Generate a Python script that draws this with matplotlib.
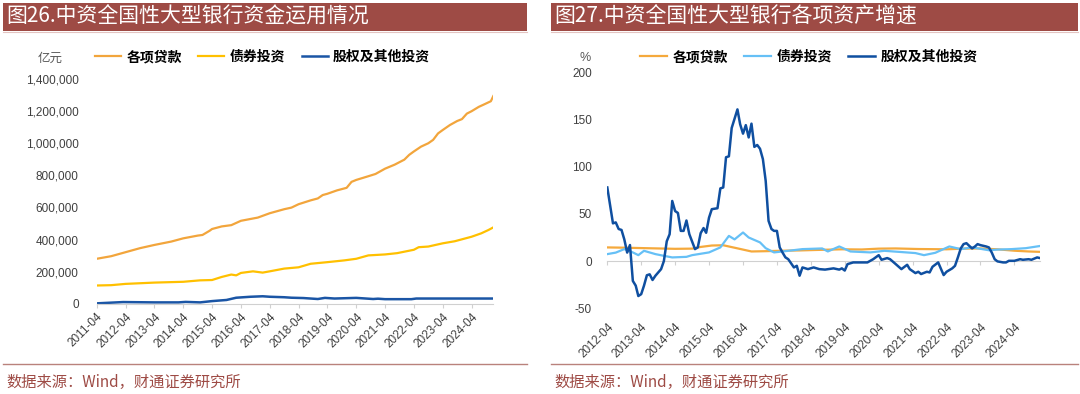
import matplotlib
matplotlib.use("Agg")
import matplotlib.pyplot as plt
import pandas as pd
from matplotlib.patches import Rectangle
from matplotlib.lines import Line2D
from matplotlib.font_manager import FontProperties

plt.rcParams['font.family'] = ['Liberation Sans', 'Noto Sans CJK SC', 'DejaVu Sans']

# ---------------- Left chart data (亿元) ----------------
loan_dates = ['2011-04', '2011-10', '2012-04', '2012-10', '2013-04', '2013-11', '2014-04', '2014-10',
              '2014-12', '2015-03', '2015-04', '2015-08', '2015-12', '2016-04', '2016-11', '2017-04',
              '2017-10', '2018-01', '2018-04', '2018-09', '2018-12', '2019-02', '2019-04', '2019-08',
              '2019-12', '2020-02', '2020-04', '2020-09', '2020-12', '2021-04', '2021-08', '2021-12',
              '2022-02', '2022-04', '2022-07', '2022-10', '2022-12', '2023-02', '2023-04', '2023-07',
              '2023-10', '2023-12', '2024-02', '2024-04', '2024-07', '2024-09', '2024-12', '2025-01']
loan_values = [281000, 297000, 322000, 347000, 367000, 388000, 408000, 425000,
               429000, 455000, 466000, 482000, 490000, 517000, 537000, 564000,
               589000, 599000, 620000, 644000, 656000, 677000, 685000, 706000,
               722000, 759000, 771000, 794000, 808000, 841000, 866000, 897000,
               927000, 948000, 978000, 999000, 1020000, 1060000, 1081000, 1112000,
               1137000, 1149000, 1183000, 1198000, 1225000, 1239000, 1260000, 1292000]

bond_dates = ['2011-04', '2011-10', '2012-04', '2013-04', '2014-04', '2014-11', '2015-04', '2015-08',
              '2015-12', '2016-02', '2016-04', '2016-09', '2017-01', '2017-04', '2017-10', '2018-01',
              '2018-04', '2018-09', '2019-04', '2019-11', '2020-04', '2020-09', '2021-04', '2021-09',
              '2022-04', '2022-06', '2022-10', '2023-04', '2023-09', '2024-04', '2024-08', '2024-11',
              '2025-01']
bond_values = [115000, 117000, 125000, 133000, 138000, 147000, 149000, 168000,
               183000, 178000, 193000, 203000, 195000, 203000, 220000, 224000,
               228000, 250000, 260000, 271000, 281000, 302000, 308000, 316000,
               337000, 353000, 357000, 377000, 390000, 418000, 439000, 460000,
               476000]

eq_dates = ['2011-04', '2012-03', '2013-04', '2014-02', '2014-05', '2014-11', '2015-04', '2015-10',
            '2016-02', '2016-08', '2017-01', '2017-04', '2017-10', '2018-01', '2018-06', '2018-12',
            '2019-03', '2019-07', '2020-04', '2020-11', '2021-01', '2021-04', '2022-03', '2022-05',
            '2025-01']
eq_values = [4000, 12000, 10000, 10000, 13000, 10000, 18000, 25000,
             39000, 45000, 48000, 45000, 42000, 39000, 37000, 31000,
             38000, 34000, 38000, 31000, 33000, 30000, 30000, 34000,
             34000]

left_ticks = ['2011-04', '2012-04', '2013-04', '2014-04', '2015-04', '2016-04', '2017-04',
              '2018-04', '2019-04', '2020-04', '2021-04', '2022-04', '2023-04', '2024-04']
left_yticks = [0, 200000, 400000, 600000, 800000, 1000000, 1200000, 1400000]

# ---------------- Right chart data (%) ----------------
g_loan_dates = ['2012-04', '2012-10', '2013-04', '2013-10', '2014-04', '2014-10', '2015-01', '2015-05',
                '2015-09', '2016-02', '2016-07', '2016-12', '2017-06', '2017-12', '2018-06', '2019-03',
                '2019-10', '2020-04', '2020-10', '2021-06', '2022-04', '2022-10', '2023-04', '2023-10',
                '2024-04', '2024-09', '2025-01']
g_loan_values = [14.5, 14.2, 13.8, 13.4, 13.0, 13.2, 15.0, 16.5,
                 16.8, 13.5, 10.2, 10.5, 11.0, 11.3, 11.8, 12.5,
                 12.3, 13.2, 13.4, 12.8, 12.5, 13.2, 13.4, 12.5,
                 11.0, 10.2, 9.8]

g_bond_dates = ['2012-04', '2012-07', '2012-10', '2013-01', '2013-03', '2013-05', '2013-09', '2013-12',
                '2014-03', '2014-08', '2014-10', '2015-04', '2015-08', '2015-11', '2016-01', '2016-04',
                '2016-06', '2016-10', '2016-12', '2017-03', '2017-08', '2018-01', '2018-08', '2018-10',
                '2019-02', '2019-06', '2020-01', '2020-06', '2020-11', '2021-05', '2021-08', '2021-12',
                '2022-05', '2022-09', '2023-01', '2023-07', '2023-10', '2024-03', '2024-08', '2025-01']
g_bond_values = [7.4, 9.0, 12.7, 9.2, 6.3, 10.9, 7.4, 5.6,
                 3.9, 4.5, 6.3, 9.2, 14.5, 26.7, 23.0, 30.3,
                 25.0, 19.8, 13.7, 9.2, 10.9, 12.7, 13.4, 10.2,
                 15.5, 10.2, 9.2, 10.9, 9.8, 8.5, 6.3, 8.8,
                 15.5, 12.7, 14.5, 11.5, 12.2, 12.7, 13.7, 16.0]

g_eq_dates = ['2012-04', '2012-06', '2012-07', '2012-08', '2012-09', '2012-10', '2012-11', '2012-12',
              '2013-01', '2013-02', '2013-03', '2013-04', '2013-05', '2013-06', '2013-07', '2013-08',
              '2013-09', '2013-11', '2013-12', '2014-01', '2014-02', '2014-03', '2014-04', '2014-05',
              '2014-06', '2014-07', '2014-08', '2014-09', '2014-11', '2014-12', '2015-01', '2015-02',
              '2015-03', '2015-04', '2015-05', '2015-07', '2015-08', '2015-09', '2015-10', '2015-11',
              '2015-12', '2016-02', '2016-03', '2016-04', '2016-05', '2016-06', '2016-07', '2016-08',
              '2016-09', '2016-10', '2016-11', '2016-12', '2017-01', '2017-02', '2017-03', '2017-04',
              '2017-05', '2017-06', '2017-07', '2017-08', '2017-10', '2017-11', '2017-12', '2018-01',
              '2018-03', '2018-05', '2018-07', '2018-09', '2018-12', '2019-02', '2019-03', '2019-04',
              '2019-05', '2019-07', '2019-09', '2019-12', '2020-01', '2020-02', '2020-04', '2020-05',
              '2020-07', '2020-08', '2020-10', '2020-12', '2021-02', '2021-03', '2021-05', '2021-06',
              '2021-07', '2021-09', '2021-10', '2021-11', '2022-01', '2022-02', '2022-03', '2022-04',
              '2022-06', '2022-07', '2022-08', '2022-09', '2022-10', '2022-11', '2022-12', '2023-01',
              '2023-02', '2023-03', '2023-04', '2023-06', '2023-07', '2023-08', '2023-09', '2023-10',
              '2023-12', '2024-01', '2024-02', '2024-04', '2024-06', '2024-07', '2024-09', '2024-10',
              '2024-12', '2025-01']
g_eq_values = [78, 40, 41, 34, 33, 23, 9, 17,
               -21, -26, -37, -35, -26, -15, -14, -20,
               -15.5, -8.5, 0, 21, 28.5, 63.7, 53, 51,
               32, 32, 43, 28.5, 12.7, 14.5, 29.6, 35,
               30, 46, 55, 56, 77, 78, 110, 111,
               141, 160.7, 145, 135, 144, 131, 145.6, 121,
               123, 119, 108, 85, 42.6, 34, 32, 32,
               14.5, 9, 4, 2, -6.7, -5, -15.5, -6.7,
               -8.5, -6.7, -8.5, -9, -7.7, -9, -7.7, -10,
               -3.2, -1.4, -1.4, -1.4, 0.3, 2, 6.3, 1.4,
               3.2, 2, -3.2, -8.5, -3.9, -8.5, -12.7, -11.3,
               -13.7, -11.3, -12, -6, -1.4, -8.5, -14.8, -11.3,
               -7.7, -5, 3.9, 13.4, 18, 19, 16.2, 13.4,
               15.5, 18, 16.9, 15.5, 14.5, 9, 2, -0.3,
               -1.4, -1.4, 0.3, 0.3, 2, 1.4, 2, 1.4,
               3.9, 3.2]

right_ticks = ['2012-04', '2013-04', '2014-04', '2015-04', '2016-04', '2017-04', '2018-04',
               '2019-04', '2020-04', '2021-04', '2022-04', '2023-04', '2024-04']
right_yticks = [-50, 0, 50, 100, 150, 200]

series_names = ['各项贷款', '债券投资', '股权及其他投资']
titles = ['图26.中资全国性大型银行资金运用情况', '图27.中资全国性大型银行各项资产增速']
source_text = '数据来源：Wind，财通证券研究所'

# ---------------- Styling ----------------
W, H = 1080, 394
BAR = '#9E4B45'
TICKC = '#404040'
cjk = 'Noto Sans CJK SC'

def d(lst):
    return pd.to_datetime(lst, format='%Y-%m')

fig = plt.figure(figsize=(W / 100, H / 100), dpi=100)

def fx(x):
    return x / W

def fy(y):
    return 1 - y / H

# title bars, footer lines, source text
for (x0, x1), title in zip([(3, 527), (551, 1078)], titles):
    fig.patches.append(Rectangle((fx(x0), fy(31)), fx(x1 - x0), 28 / H,
                                 transform=fig.transFigure, facecolor=BAR, edgecolor='none'))
    fig.lines.append(Line2D([fx(x0), fx(x1)], [fy(32), fy(32)], transform=fig.transFigure,
                            color='#E3C4C1', lw=0.8))
    fig.text(fx(x0 + 3), fy(17), title, color='white', fontsize=15, family=[cjk],
             va='center', ha='left')
    fig.lines.append(Line2D([fx(x0), fx(x1)], [fy(364), fy(364)], transform=fig.transFigure,
                            color='#B9827C', lw=1.0))
    fig.text(fx(x0 + 3), fy(382), source_text, color=BAR, fontsize=11, family=[cjk],
             va='center', ha='left')

leg_font = FontProperties(family=cjk, weight='bold', size=10)

# ---------------- Left chart ----------------
ax1 = fig.add_axes([fx(96.7), fy(304), fx(493.3 - 96.7), (304 - 78.7) / H])
c_loan, c_bond, c_eq = '#F2A53C', '#FFC000', '#1A55A5'
ax1.plot(d(loan_dates), loan_values, color=c_loan, lw=1.6, label=series_names[0])
ax1.plot(d(bond_dates), bond_values, color=c_bond, lw=1.6, label=series_names[1])
ax1.plot(d(eq_dates), eq_values, color=c_eq, lw=1.8, label=series_names[2])
ax1.set_xlim(d(['2011-04'])[0], d(['2025-01'])[0])
ax1.set_ylim(0, 1400000)
ax1.set_yticks(left_yticks)
ax1.set_yticklabels([f'{v:,}' for v in left_yticks])
ax1.set_xticks(d(left_ticks))
ax1.set_xticklabels(left_ticks, rotation=45, ha='right', va='top', rotation_mode='anchor')
for s in ['top', 'right', 'left']:
    ax1.spines[s].set_visible(False)
ax1.spines['bottom'].set_color('#D0D0D0')
ax1.tick_params(axis='y', length=0, pad=13, labelsize=8.5, labelcolor=TICKC)
ax1.tick_params(axis='x', length=3, color='#D0D0D0', pad=2, labelsize=8.5, labelcolor=TICKC)
ax1.patch.set_alpha(0)
fig.text(fx(50), fy(58), '亿元', fontsize=9, color='#595959', family=[cjk], ha='center', va='center')
ax1.legend(ncol=3, loc='center left', bbox_to_anchor=(fx(95), fy(57)), bbox_transform=fig.transFigure,
           frameon=False, handlelength=1.85, handletextpad=0.4, columnspacing=1.2,
           borderpad=0, borderaxespad=0, prop=leg_font)

# ---------------- Right chart ----------------
ax2 = fig.add_axes([fx(607.3), fy(308.3), fx(1040 - 607.3), (308.3 - 72.3) / H])
r_loan, r_bond, r_eq = '#F5A93C', '#66C0F6', '#0F4FA0'
ax2.plot(d(g_loan_dates), g_loan_values, color=r_loan, lw=1.6, label=series_names[0])
ax2.plot(d(g_bond_dates), g_bond_values, color=r_bond, lw=1.6, label=series_names[1])
ax2.plot(d(g_eq_dates), g_eq_values, color=r_eq, lw=1.8, label=series_names[2])
ax2.set_xlim(d(['2012-04'])[0], d(['2025-01'])[0])
ax2.set_ylim(-50, 200)
ax2.set_yticks(right_yticks)
ax2.set_yticklabels([str(v) for v in right_yticks])
ax2.set_xticks(d(right_ticks))
ax2.set_xticklabels(right_ticks, rotation=45, ha='right', va='top', rotation_mode='anchor')
for s in ['top', 'right', 'left', 'bottom']:
    ax2.spines[s].set_visible(False)
ax2.tick_params(axis='y', length=0, pad=11, labelsize=8.5, labelcolor=TICKC)
ax2.tick_params(axis='x', length=0, pad=9, labelsize=8.5, labelcolor=TICKC)
ax2.patch.set_alpha(0)
zero_ax = ax2.secondary_xaxis(50 / 250)
zero_ax.set_xticks(d(right_ticks))
zero_ax.set_xticklabels([''] * len(right_ticks))
zero_ax.spines['bottom'].set_color('#D0D0D0')
zero_ax.tick_params(axis='x', length=3, color='#D0D0D0')
fig.text(fx(585), fy(58), '%', fontsize=9, color='#595959', ha='center', va='center')
ax2.legend(ncol=3, loc='center left', bbox_to_anchor=(fx(640), fy(57)), bbox_transform=fig.transFigure,
           frameon=False, handlelength=1.95, handletextpad=0.4, columnspacing=1.15,
           borderpad=0, borderaxespad=0, prop=leg_font)

fig.savefig('out.png', dpi=100)
